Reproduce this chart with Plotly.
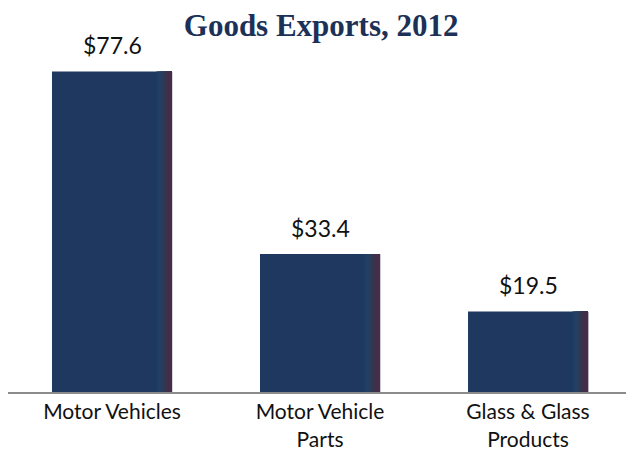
import plotly.graph_objects as go

categories = ["Motor Vehicles", "Motor Vehicle<br>Parts", "Glass & Glass<br>Products"]
values = [77.6, 33.4, 19.5]
value_labels = ["$77.6", "$33.4", "$19.5"]

BAR_W = 0.577
navy = (30, 56, 96)
edge_cols = [(31, 60, 98), (33, 64, 98), (36, 63, 95), (42, 60, 90), (50, 55, 84),
             (58, 50, 78), (64, 47, 74), (68, 45, 71), (72, 44, 70)]
STRIP = 0.0085

fig = go.Figure()
fig.add_trace(go.Bar(x=categories, y=values, width=BAR_W,
                     marker=dict(color="rgb(%d,%d,%d)" % navy, line=dict(width=0)),
                     hoverinfo="skip", showlegend=False))
n = len(edge_cols)
for k, c in enumerate(edge_cols):
    off = BAR_W / 2 - (n - k) * STRIP
    # each strip extends right up to the bar edge so later strips cover earlier ones without seams
    fig.add_trace(go.Bar(x=categories, y=values, width=(n - k) * STRIP, offset=off,
                         marker=dict(color="rgb(%d,%d,%d)" % c, line=dict(width=0)),
                         hoverinfo="skip", showlegend=False))

for cat, v, t in zip(categories, values, value_labels):
    fig.add_annotation(x=cat, y=v, text=t, showarrow=False, yanchor="middle", yshift=26,
                       font=dict(family="Lato", size=23, color="#111111"))

fig.update_layout(
    width=626, height=451,
    barmode="overlay",
    margin=dict(l=8, r=0, t=0, b=56),
    plot_bgcolor="white", paper_bgcolor="white",
    title=dict(text="<b>Goods Exports, 2012</b>", x=0.513, xanchor="center",
               y=1 - 25 / 451, yanchor="middle", yref="container",
               font=dict(family="Liberation Serif", size=31, color="#1B3157")),
    xaxis=dict(range=[-0.5, 2.471], showline=True, linecolor="#8C8C8C", linewidth=2,
               showgrid=False, ticks="", zeroline=False,
               tickfont=dict(family="Lato", size=21, color="#111111")),
    yaxis=dict(range=[0, 94.9], visible=False, showgrid=False, zeroline=False),
)

fig.write_html("out.html", config={"displayModeBar": False},
               post_script="document.body.style.margin='0';")
